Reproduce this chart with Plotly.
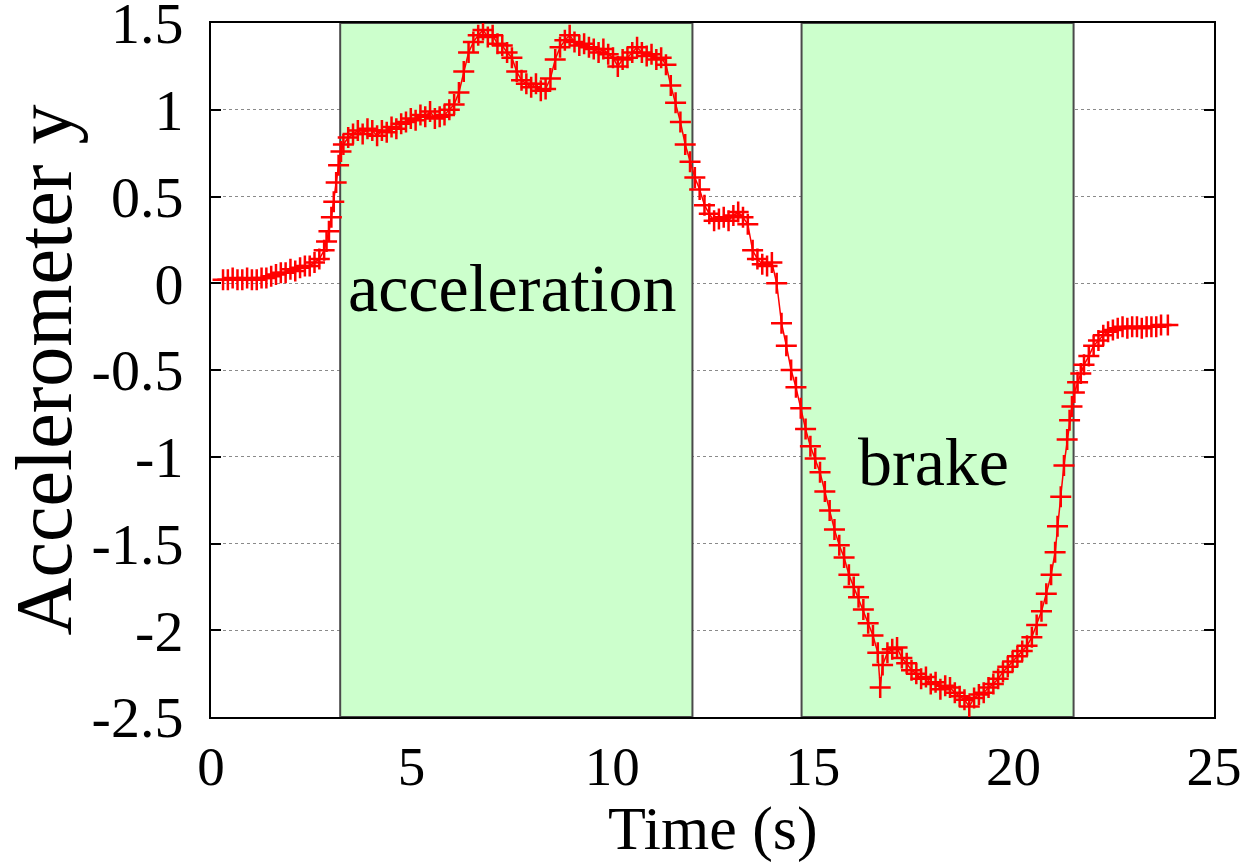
import plotly.graph_objects as go

# Accelerometer trace (time in seconds, y-axis acceleration)
time_s = [
    0.30, 0.42, 0.54, 0.66, 0.78, 0.90, 1.02, 1.14, 1.26, 1.38,
    1.50, 1.62, 1.74, 1.86, 1.98, 2.10, 2.22, 2.34, 2.46, 2.58,
    2.70, 2.82, 2.88, 2.94, 3.00, 3.06, 3.12, 3.18, 3.24, 3.30,
    3.42, 3.54, 3.66, 3.78, 3.90, 4.02, 4.14, 4.26, 4.38, 4.50,
    4.62, 4.74, 4.86, 4.98, 5.10, 5.22, 5.34, 5.46, 5.58, 5.70,
    5.82, 5.94, 6.06, 6.18, 6.30, 6.42, 6.54, 6.66, 6.78, 6.90,
    7.02, 7.14, 7.26, 7.38, 7.50, 7.62, 7.74, 7.86, 7.98, 8.10,
    8.22, 8.34, 8.46, 8.58, 8.70, 8.82, 8.94, 9.06, 9.18, 9.30,
    9.42, 9.54, 9.66, 9.78, 9.90, 10.02, 10.14, 10.26, 10.38, 10.50,
    10.62, 10.74, 10.86, 10.98, 11.10, 11.22, 11.34, 11.46, 11.58, 11.70,
    11.82, 11.94, 12.06, 12.18, 12.30, 12.42, 12.54, 12.66, 12.78, 12.90,
    13.02, 13.14, 13.26, 13.38, 13.50, 13.62, 13.74, 13.86, 13.98, 14.10,
    14.22, 14.34, 14.46, 14.58, 14.70, 14.82, 14.94, 15.06, 15.18, 15.30,
    15.42, 15.54, 15.66, 15.78, 15.90, 16.02, 16.14, 16.26, 16.38, 16.50,
    16.62, 16.68, 16.74, 16.86, 16.98, 17.10, 17.22, 17.34, 17.46, 17.58,
    17.70, 17.82, 17.94, 18.06, 18.18, 18.30, 18.42, 18.54, 18.66, 18.78,
    18.90, 19.02, 19.14, 19.26, 19.38, 19.50, 19.62, 19.74, 19.86, 19.98,
    20.10, 20.22, 20.34, 20.46, 20.58, 20.70, 20.82, 20.94, 21.04, 21.10,
    21.18, 21.26, 21.34, 21.40, 21.46, 21.52, 21.60, 21.68, 21.76, 21.88,
    22.00, 22.12, 22.24, 22.36, 22.48, 22.60, 22.72, 22.84, 22.96, 23.08,
    23.20, 23.32, 23.44, 23.56, 23.68, 23.85,
]
accel_y = [
    0.02, 0.02, 0.03, 0.02, 0.02, 0.03, 0.02, 0.02, 0.03, 0.03,
    0.04, 0.05, 0.06, 0.06, 0.08, 0.07, 0.09, 0.10, 0.10, 0.12,
    0.14, 0.19, 0.24, 0.30, 0.38, 0.47, 0.58, 0.68, 0.76, 0.80,
    0.84, 0.86, 0.88, 0.86, 0.89, 0.88, 0.85, 0.88, 0.87, 0.90,
    0.89, 0.92, 0.93, 0.95, 0.94, 0.97, 0.96, 0.99, 0.95, 0.96,
    0.97, 1.00, 1.03, 1.10, 1.22, 1.33, 1.39, 1.43, 1.46, 1.42,
    1.43, 1.38, 1.37, 1.33, 1.30, 1.22, 1.17, 1.15, 1.13, 1.15,
    1.11, 1.12, 1.18, 1.29, 1.36, 1.40, 1.43, 1.39, 1.37, 1.38,
    1.36, 1.35, 1.33, 1.35, 1.32, 1.30, 1.25, 1.29, 1.30, 1.33,
    1.36, 1.33, 1.31, 1.32, 1.29, 1.30, 1.26, 1.14, 1.04, 0.93,
    0.80, 0.70, 0.61, 0.54, 0.45, 0.40, 0.36, 0.37, 0.38, 0.36,
    0.39, 0.41, 0.38, 0.34, 0.19, 0.14, 0.11, 0.10, 0.12, 0.00,
    -0.23, -0.36, -0.50, -0.60, -0.72, -0.84, -0.94, -1.01, -1.09, -1.20,
    -1.31, -1.42, -1.51, -1.58, -1.68, -1.75, -1.81, -1.88, -1.96, -2.03,
    -2.13, -2.33, -2.20, -2.13, -2.11, -2.10, -2.16, -2.19, -2.23, -2.25,
    -2.28, -2.27, -2.31, -2.30, -2.34, -2.32, -2.33, -2.36, -2.38, -2.40,
    -2.44, -2.39, -2.37, -2.36, -2.33, -2.31, -2.28, -2.24, -2.21, -2.18,
    -2.15, -2.12, -2.09, -2.04, -1.97, -1.89, -1.79, -1.68, -1.55, -1.40,
    -1.23, -1.05, -0.90, -0.79, -0.71, -0.63, -0.57, -0.52, -0.47, -0.42,
    -0.36, -0.33, -0.30, -0.28, -0.27, -0.26, -0.25, -0.26, -0.25, -0.25,
    -0.26, -0.25, -0.25, -0.25, -0.24, -0.24,
]

# Shaded phases
phase_start = [3.22, 14.72]
phase_end = [12.0, 21.5]
phase_label = ["acceleration", "brake"]
label_x = [7.5, 18.0]
label_y = [-0.03, -1.03]

y_ticks = [1.5, 1, 0.5, 0, -0.5, -1, -1.5, -2, -2.5]
y_tick_text = ["1.5", "1", "0.5", "0", "-0.5", "-1", "-1.5", "-2", "-2.5"]
x_ticks = [0, 5, 10, 15, 20, 25]

FONT = "Liberation Serif"

fig = go.Figure()
fig.add_trace(go.Scatter(
    x=time_s, y=accel_y, mode="lines+markers",
    line=dict(color="#ff0000", width=1.5),
    marker=dict(symbol="cross-thin", size=15, line=dict(color="#ff0000", width=2.5)),
    showlegend=False,
))

for x0, x1, txt, lx, ly in zip(phase_start, phase_end, phase_label, label_x, label_y):
    fig.add_shape(type="rect", xref="x", yref="y", x0=x0, x1=x1, y0=-2.5, y1=1.5,
                  fillcolor="#ccffcc", line=dict(color="#4a4a4a", width=2), layer="between")
    fig.add_annotation(x=lx, y=ly, text=txt, showarrow=False,
                       font=dict(family=FONT, size=68, color="black"))

# x-axis title placed below the tick labels
fig.add_annotation(x=0.5, y=0, xref="paper", yref="paper", xanchor="center", yanchor="top",
                   yshift=-75, text="Time (s)", showarrow=False,
                   font=dict(family=FONT, size=62, color="black"))

fig.update_layout(
    width=1254, height=862,
    margin=dict(l=211, r=40, t=23, b=145, autoexpand=False),
    paper_bgcolor="white", plot_bgcolor="white",
    font=dict(family=FONT, color="black"),
)
fig.update_xaxes(
    range=[0, 25], tickvals=x_ticks, ticks="", showgrid=False, zeroline=False,
    showline=True, linecolor="black", linewidth=2, mirror=True, automargin=False,
    tickfont=dict(family=FONT, size=55), ticklabelstandoff=0,
)
fig.update_yaxes(
    range=[-2.5, 1.5], tickvals=y_ticks, ticktext=y_tick_text,
    ticks="inside", ticklen=10, tickwidth=2, tickcolor="black",
    showgrid=True, gridcolor="#8a8a8a", griddash="dot", gridwidth=1.2,
    zeroline=False, showline=True, linecolor="black", linewidth=2, mirror="ticks",
    automargin=False, ticklabeloverflow="allow",
    tickfont=dict(family=FONT, size=58), ticklabelstandoff=14,
    title=dict(text="Accelerometer y", font=dict(family=FONT, size=80), standoff=18),
)

fig.write_html("out.html")
